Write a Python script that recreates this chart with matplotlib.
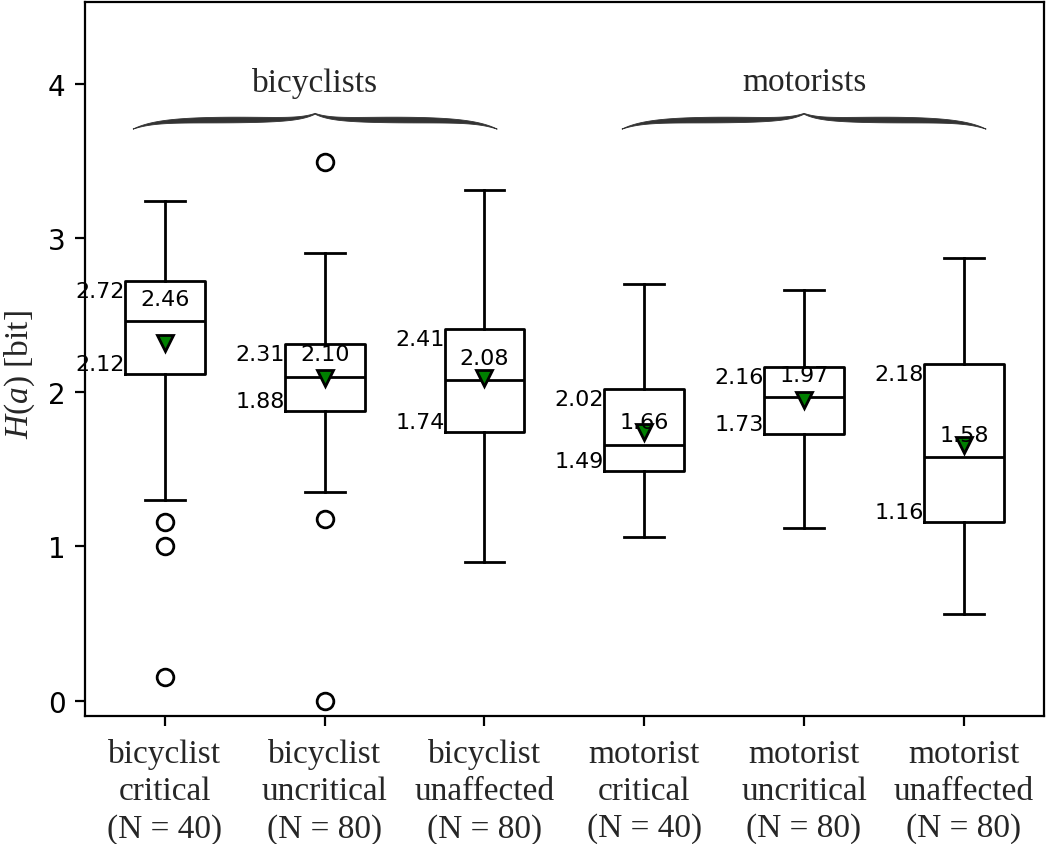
import numpy as np
import matplotlib
matplotlib.use('Agg')
import matplotlib.pyplot as plt
from matplotlib.patches import Polygon

plt.rcParams['mathtext.fontset'] = 'custom'
plt.rcParams['mathtext.rm'] = 'Liberation Serif'
plt.rcParams['mathtext.it'] = 'Liberation Serif:italic'

labels = ['bicyclist\ncritical\n(N = 40)', 'bicyclist\nuncritical\n(N = 80)',
          'bicyclist\nunaffected\n(N = 80)', 'motorist\ncritical\n(N = 40)',
          'motorist\nuncritical\n(N = 80)', 'motorist\nunaffected\n(N = 80)']
whislo = [1.30, 1.35, 0.90, 1.06, 1.12, 0.56]
q1 = [2.12, 1.88, 1.74, 1.49, 1.73, 1.16]
med = [2.46, 2.10, 2.08, 1.66, 1.97, 1.58]
q3 = [2.72, 2.31, 2.41, 2.02, 2.16, 2.18]
whishi = [3.24, 2.90, 3.31, 2.70, 2.66, 2.87]
means = [2.32, 2.09, 2.09, 1.74, 1.95, 1.66]
fliers = [[1.16, 1.00, 0.15], [3.49, 1.18, 0.00], [], [], [], []]
groups = ['bicyclists', 'motorists']
group_span = [(0.80, 3.08), (3.86, 6.14)]

serif = 'Liberation Serif'
tcol = '#262626'

fig = plt.figure(figsize=(5.25, 4.225), dpi=200)
ax = fig.add_axes([0.081, 0.1515, 0.913, 0.845])

stats = []
for i in range(len(labels)):
    stats.append(dict(whislo=whislo[i], q1=q1[i], med=med[i], q3=q3[i],
                      whishi=whishi[i], mean=means[i], fliers=fliers[i]))
pos = np.arange(1, len(labels) + 1)
ax.bxp(stats, positions=pos, widths=0.5, showmeans=True,
       boxprops=dict(color='black', linewidth=1.0),
       medianprops=dict(color='black', linewidth=1.0),
       whiskerprops=dict(color='black', linewidth=1.0),
       capprops=dict(color='black', linewidth=1.0),
       flierprops=dict(marker='o', markerfacecolor='white', markeredgecolor='black', markersize=6),
       meanprops=dict(marker='v', markerfacecolor='green', markeredgecolor='black', markersize=6))

for i, p in enumerate(pos):
    ax.annotate(f'{q3[i]:.2f}', (p - 0.25, q3[i]), ha='right', va='top', fontsize=8)
    ax.annotate(f'{q1[i]:.2f}', (p - 0.25, q1[i]), ha='right', va='bottom', fontsize=8)
    ax.annotate(f'{med[i]:.2f}', (p, med[i]), xytext=(0, 8), textcoords='offset points',
                ha='center', va='center', fontsize=8)

ax.set_xlim(0.5, 6.5)
ax.set_ylim(-0.1, 4.53)
ax.set_yticks([0, 1, 2, 3, 4])
ax.set_xticks(pos)
ax.set_xticklabels(labels, family=serif, fontsize=12, color=tcol)
for t in ax.get_xticklabels():
    t.set_linespacing(1.28)
ax.tick_params(axis='x', pad=4.5)
ax.set_ylabel('$H(a)$ [bit]', family=serif, fontsize=12, color=tcol)
ax.yaxis.set_label_coords(-0.050, 0.48)


def brace(ax, x0, x1, y_end, y_mid, y_tip, wmax):
    s = np.linspace(0, 1, 200)
    yc = y_end + (y_mid - y_end) * (1 - np.exp(-s / 0.12)) + (y_tip - y_mid) * np.exp(-(1 - s) / 0.08)
    w = wmax * np.sin(np.pi * s) ** 0.8 + 0.005 * s
    xm = 0.5 * (x0 + x1)
    xl = x0 + (xm - x0) * s
    xr = x1 - (x1 - xm) * s
    top_l = np.column_stack([xl, yc + w / 2])
    bot_l = np.column_stack([xl, yc - w / 2])
    top_r = np.column_stack([xr, yc + w / 2])
    bot_r = np.column_stack([xr, yc - w / 2])
    verts = np.vstack([top_l, top_r[::-1], bot_r, bot_l[::-1]])
    ax.add_patch(Polygon(verts, closed=True, facecolor='#333333', edgecolor='#333333',
                         linewidth=0.3, clip_on=False))


for g, (a, b) in zip(groups, group_span):
    brace(ax, a, b, 3.705, 3.765, 3.805, 0.034)
    ax.text(0.5 * (a + b), 4.01, g, ha='center', va='center', family=serif,
            fontsize=12, color=tcol)

fig.savefig('out.png', dpi=200)
